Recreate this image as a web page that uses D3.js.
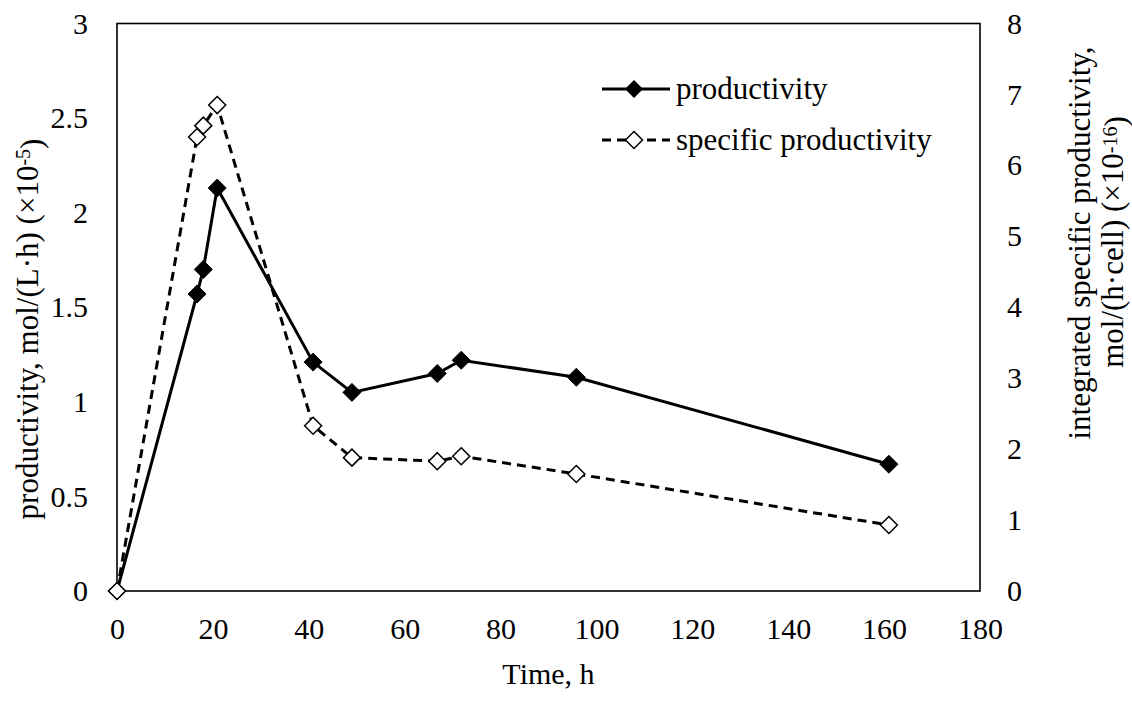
<!DOCTYPE html>
<html>
<head>
<meta charset="utf-8">
<script src="https://cdn.jsdelivr.net/npm/d3@7"></script>
<style>
  html, body { margin: 0; padding: 0; background: #fff; }
  svg { display: block; }
  svg text { font-family: "Liberation Serif", "Times New Roman", serif !important; fill: #000; }
</style>
</head>
<body>
<svg id="chart" width="1132" height="702" font-family="Liberation Serif"></svg>
<script>
// Culture time (h)
const time = [0, 16.7, 18, 20.9, 40.9, 49, 66.8, 71.8, 95.8, 161];
// Volumetric productivity, mol/(L·h) ×10^-5 (left axis)
const productivity = [0, 1.57, 1.70, 2.13, 1.21, 1.05, 1.15, 1.22, 1.13, 0.67];
// Integrated specific productivity, mol/(h·cell) ×10^-16 (right axis)
const specificProductivity = [0, 6.40, 6.56, 6.85, 2.33, 1.88, 1.83, 1.90, 1.65, 0.93];

const xTicks = [0, 20, 40, 60, 80, 100, 120, 140, 160, 180];
const yLeftTicks = [0, 0.5, 1, 1.5, 2, 2.5, 3];
const yRightTicks = [0, 1, 2, 3, 4, 5, 6, 7, 8];

const svg = d3.select("#chart");
const m = { left: 117, right: 980, top: 23.5, bottom: 591 };
const tickFs = 30, titleFs = 31;
const serif = "Liberation Serif";

const x = d3.scaleLinear().domain([0, 180]).range([m.left, m.right]);
const yL = d3.scaleLinear().domain([0, 3]).range([m.bottom, m.top]);
const yR = d3.scaleLinear().domain([0, 8]).range([m.bottom, m.top]);

// Axes (labels only, no tick marks)
const xAxis = svg.append("g").attr("transform", `translate(0,${m.bottom})`)
  .call(d3.axisBottom(x).tickValues(xTicks).tickSize(0).tickPadding(27).tickFormat(d3.format("d")));
const lAxis = svg.append("g").attr("transform", `translate(${m.left},0)`)
  .call(d3.axisLeft(yL).tickValues(yLeftTicks).tickSize(0).tickPadding(29).tickFormat(d => String(d)));
const rAxis = svg.append("g").attr("transform", `translate(${m.right},0)`)
  .call(d3.axisRight(yR).tickValues(yRightTicks).tickSize(0).tickPadding(27).tickFormat(d3.format("d")));
[xAxis, lAxis, rAxis].forEach(g => {
  g.attr("font-family", serif).attr("font-size", tickFs);
  g.select(".domain").remove();
});

// Plot frame
svg.append("rect")
  .attr("x", m.left).attr("y", m.top)
  .attr("width", m.right - m.left).attr("height", m.bottom - m.top)
  .attr("fill", "none").attr("stroke", "#000").attr("stroke-width", 1.6);

const diamond = r => `M0,${-r}L${r},0L0,${r}L${-r},0Z`;

// Series lines
const lineL = d3.line().x((d, i) => x(time[i])).y(d => yL(d));
const lineR = d3.line().x((d, i) => x(time[i])).y(d => yR(d));

svg.append("path").datum(productivity)
  .attr("d", lineL).attr("fill", "none").attr("stroke", "#000").attr("stroke-width", 3);
svg.append("path").datum(specificProductivity)
  .attr("d", lineR).attr("fill", "none").attr("stroke", "#000").attr("stroke-width", 3)
  .attr("stroke-dasharray", "9,6");

// Markers
svg.append("g").selectAll("path").data(productivity).join("path")
  .attr("transform", (d, i) => `translate(${x(time[i])},${yL(d)})`)
  .attr("d", diamond(9)).attr("fill", "#000").attr("stroke", "#000").attr("stroke-width", 1);
svg.append("g").selectAll("path").data(specificProductivity).join("path")
  .attr("transform", (d, i) => `translate(${x(time[i])},${yR(d)})`)
  .attr("d", diamond(8.5)).attr("fill", "#fff").attr("stroke", "#000").attr("stroke-width", 1.5);

// Legend
const legend = svg.append("g").attr("font-family", serif).attr("font-size", 31);
const lg1 = 89, lg2 = 140;
legend.append("line").attr("x1", 602).attr("x2", 670).attr("y1", lg1).attr("y2", lg1)
  .attr("stroke", "#000").attr("stroke-width", 3);
legend.append("path").attr("transform", `translate(634,${lg1})`).attr("d", diamond(9))
  .attr("fill", "#000");
legend.append("text").attr("x", 676).attr("y", lg1).attr("dy", "0.32em").text("productivity");
legend.append("line").attr("x1", 602).attr("x2", 670).attr("y1", lg2).attr("y2", lg2)
  .attr("stroke", "#000").attr("stroke-width", 3).attr("stroke-dasharray", "9,6");
legend.append("path").attr("transform", `translate(634,${lg2})`).attr("d", diamond(8.5))
  .attr("fill", "#fff").attr("stroke", "#000").attr("stroke-width", 1.5);
legend.append("text").attr("x", 676).attr("y", lg2).attr("dy", "0.32em").text("specific productivity");

// Axis titles
const titles = svg.append("g").attr("font-family", serif).attr("font-size", titleFs);
titles.append("text").attr("x", (m.left + m.right) / 2).attr("y", 684)
  .attr("font-size", tickFs)
  .attr("text-anchor", "middle").text("Time, h");

const tl = titles.append("text")
  .attr("transform", "translate(38,329) rotate(-90)")
  .attr("text-anchor", "middle");
tl.append("tspan").text("productivity, mol/(L·h) (×10");
tl.append("tspan").attr("dy", "-0.4em").attr("font-size", 20).text("-5");
tl.append("tspan").attr("dy", "0.4em").text(")");

titles.append("text")
  .attr("transform", "translate(1090,243) rotate(-90)")
  .attr("text-anchor", "middle")
  .text("integrated specific productivity,");
const tr2 = titles.append("text")
  .attr("transform", "translate(1123,242) rotate(-90)")
  .attr("text-anchor", "middle");
tr2.append("tspan").text("mol/(h·cell) (×10");
tr2.append("tspan").attr("dy", "-0.3em").attr("font-size", 20).text("-16");
tr2.append("tspan").attr("dy", "0.3em").text(")");
</script>
</body>
</html>
